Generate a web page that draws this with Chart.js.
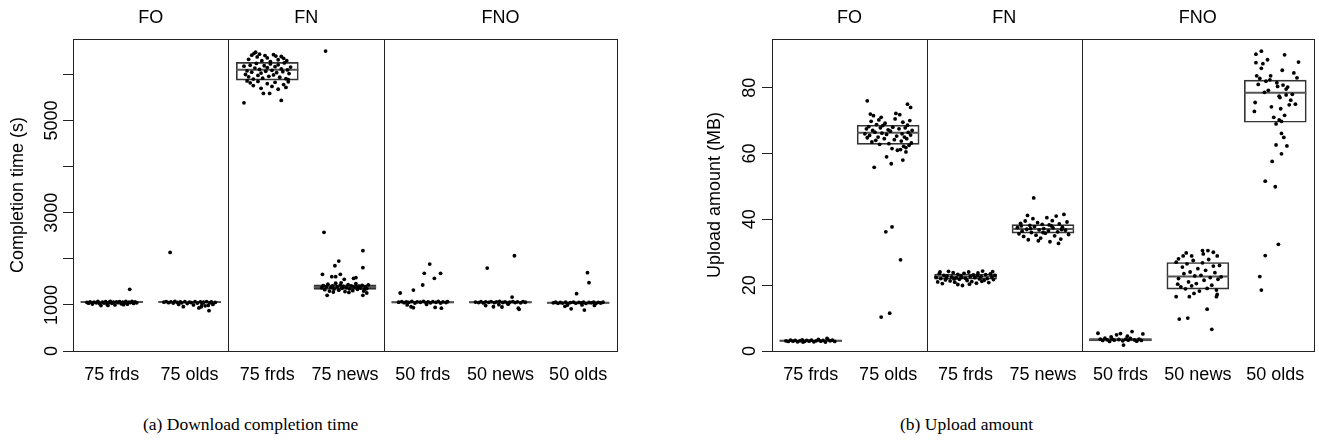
<!DOCTYPE html>
<html>
<head>
<meta charset="utf-8">
<script src="https://cdn.jsdelivr.net/npm/chart.js@4.4.1/dist/chart.umd.min.js"></script>
<style>
  body { margin: 0; background: #fff; width: 1319px; height: 447px; overflow: hidden; position: relative; }
  .wrap { position: absolute; top: 0; height: 400px; }
  .cap { position: absolute; top: 414px; font-family: "Liberation Serif", serif; font-size: 17.5px; line-height: 20px; color: #000; white-space: nowrap; }
</style>
</head>
<body>
<div class="wrap" style="left:0;width:640px"><canvas id="dl" width="640" height="400"></canvas></div>
<div class="wrap" style="left:700px;width:619px"><canvas id="up" width="619" height="400"></canvas></div>
<div class="cap" style="left:143px">(a) Download completion time</div>
<div class="cap" style="left:900px">(b) Upload amount</div>
<script>
// categories and groups (same for both panels)
const categories = ['75 frds', '75 olds', '75 frds', '75 news', '50 frds', '50 news', '50 olds'];
const groupNames = ['FO', 'FN', 'FNO'];
const groupSizes = [2, 2, 3];

// (a) download completion time, seconds
const dlTicks = [0, 1000, 2000, 3000, 4000, 5000, 6000];
const dlTickLabels = [0, 1000, 3000, 5000];
const dlMax = 6770;
const dlQ1  = [1050, 1048, 5878, 1338, 1045, 1045, 1030];
const dlMed = [1065, 1062, 6102, 1388, 1060, 1060, 1045];
const dlQ3  = [1080, 1075, 6262, 1438, 1075, 1072, 1058];

// jittered observations: [x offset, value]
const dlFOfrds = [[-0.32,1055],[-0.3,1038],[-0.28,1068],[-0.25,1020],[-0.23,1062],[-0.2,1045],[-0.18,1075],[-0.16,1030],[-0.14,985],[-0.12,1058],[-0.1,1040],[-0.08,1070],[-0.06,1010],[-0.04,1052],[-0.02,1078],[0,1035],[0.02,1060],[0.04,1000],[0.06,1068],[0.08,1048],[0.1,1072],[0.12,1025],[0.14,1058],[0.16,1040],[0.18,1074],[0.2,1015],[0.22,1062],[0.24,1050],[0.26,1078],[0.28,1032],[0.3,1066],[0.32,1045],[0.23,1338],[-0.05,990],[0.15,1005]];
const dlFOolds = [[-0.33,1060],[-0.3,1072],[-0.27,1048],[-0.25,2140],[-0.24,1066],[-0.21,1040],[-0.19,1075],[-0.16,1055],[-0.14,1010],[-0.12,1068],[-0.1,1045],[-0.08,961],[-0.06,1070],[-0.03,1030],[0,1062],[0.02,1050],[0.05,1000],[0.07,1072],[0.1,1040],[0.12,935],[0.14,1066],[0.16,1020],[0.18,1058],[0.2,980],[0.22,1070],[0.25,874],[0.26,1045],[0.28,1064],[0.3,1010],[0.33,1055],[0.15,960],[0.24,990]];
const dlFNfrds = [[-0.24,6330],[-0.2,6420],[-0.17,6460],[-0.13,6380],[-0.1,6440],[-0.07,6300],[-0.03,6410],[0,6360],[0.04,6280],[0.08,6430],[0.11,6400],[0.14,6320],[0.18,6390],[0.21,6350],[0.25,6300],[-0.15,6485],
  [-0.3,6180],[-0.28,6000],[-0.26,6080],[-0.24,5950],[-0.22,6200],[-0.2,6050],[-0.18,5900],[-0.16,6140],[-0.14,6240],[-0.12,5980],[-0.1,6110],[-0.08,6030],[-0.06,5920],[-0.04,6190],[-0.02,6070],[0,6150],[0.02,5960],[0.04,6230],[0.06,6090],[0.08,5990],[0.1,6170],[0.12,6040],[0.14,6210],[0.16,5940],[0.18,6120],[0.2,6060],[0.22,6250],[0.24,5910],[0.26,6100],[0.28,6020],[0.3,6160],[0.27,5890],
  [-0.3,5386],[-0.22,5820],[-0.18,5760],[-0.12,5850],[-0.08,5700],[-0.05,5590],[0,5800],[0.03,5590],[0.06,5740],[0.1,5830],[0.14,5680],[0.18,5438],[0.21,5780],[0.24,5720],[0.27,5840],[-0.26,5860]];
const dlFNnews = [[-0.25,6508],[-0.27,2575],[0.23,2176],[-0.08,1952],[-0.13,1850],[0.23,1807],[-0.29,1663],[-0.17,1612],[-0.12,1612],[-0.06,1663],[-0.01,1555],[0.11,1577],[0.14,1590],[-0.23,1208],[0.23,1208],[0.28,1258],
  [-0.3,1370],[-0.28,1420],[-0.26,1330],[-0.24,1395],[-0.22,1450],[-0.2,1300],[-0.18,1380],[-0.16,1410],[-0.14,1345],[-0.12,1470],[-0.1,1390],[-0.08,1320],[-0.06,1430],[-0.04,1360],[-0.02,1400],[0,1290],[0.02,1375],[0.04,1440],[0.06,1350],[0.08,1415],[0.1,1310],[0.12,1385],[0.14,1460],[0.16,1340],[0.18,1405],[0.2,1365],[0.22,1425],[0.24,1300],[0.26,1390],[0.28,1355],[0.3,1435],[-0.05,1480],[0.05,1270],[0.15,1395],[-0.15,1280],[0.25,1330]];
const dlFNOfrds = [[-0.29,1258],[-0.12,1323],[0,1432],[0.02,1685],[0.09,1887],[0.15,1577],[0.23,1685],[-0.12,940],[-0.15,960],[0.16,945],[0.24,930],
  [-0.31,1060],[-0.27,1072],[-0.24,1048],[-0.21,1066],[-0.18,1055],[-0.14,1075],[-0.1,1042],[-0.07,1068],[-0.03,1058],[0.01,1078],[0.04,1050],[0.07,1064],[0.1,1045],[0.13,1070],[0.17,1056],[0.2,1074],[0.23,1040],[0.26,1066],[0.3,1052],[0.32,1070],[-0.2,1000],[0.05,1010]];
const dlFNOnews = [[-0.17,1800],[0.18,2067],[0.15,1171],[-0.09,960],[0.02,955],[0.23,930],[0.24,905],[-0.19,985],
  [-0.32,1062],[-0.28,1050],[-0.25,1070],[-0.22,1044],[-0.19,1066],[-0.15,1056],[-0.12,1072],[-0.08,1048],[-0.05,1064],[-0.01,1075],[0.03,1052],[0.06,1068],[0.09,1040],[0.12,1060],[0.16,1073],[0.19,1050],[0.22,1066],[0.26,1045],[0.29,1070],[0.32,1058],[0.1,1015],[-0.02,1005]];
const dlFNOolds = [[0.12,1699],[0.14,1482],[-0.02,1243],[-0.09,915],[0.08,889],[-0.17,970],[0.21,990],
  [-0.32,1045],[-0.29,1058],[-0.26,1035],[-0.23,1052],[-0.2,1040],[-0.16,1060],[-0.13,1030],[-0.1,1050],[-0.06,1062],[-0.03,1038],[0.01,1055],[0.04,1044],[0.07,1060],[0.1,1032],[0.14,1052],[0.17,1046],[0.2,1062],[0.23,1036],[0.26,1054],[0.29,1042],[0.32,1058],[-0.14,995],[0.05,1000]];
const dlPoints = [dlFOfrds, dlFOolds, dlFNfrds, dlFNnews, dlFNOfrds, dlFNOnews, dlFNOolds];

// (b) upload amount, MB
const upTicks = [0, 20, 40, 60, 80];
const upTickLabels = [0, 20, 40, 60, 80];
const upMax = 94.8;
const upQ1  = [2.9, 62.8, 21.8, 35.8, 3.1, 18.8, 69.5];
const upMed = [3.1, 66.3, 22.6, 37.1, 3.4, 22.6, 78.5];
const upQ3  = [3.3, 68.6, 23.4, 38.4, 3.8, 26.9, 82.3];

const upFOfrds = [[-0.32,3.1],[-0.29,2.9],[-0.26,3.3],[-0.23,3.0],[-0.2,3.2],[-0.17,2.8],[-0.14,3.1],[-0.11,3.4],[-0.08,2.9],[-0.05,3.2],[-0.02,3.0],[0.01,3.3],[0.04,2.8],[0.07,3.1],[0.1,3.5],[0.13,3.0],[0.16,3.2],[0.19,2.7],[0.22,3.6],[0.25,3.1],[0.28,3.3],[0.31,2.9],[0.21,3.8],[-0.1,2.7]];
const upFOolds = [[-0.09,10.3],[0.02,11.5],[-0.03,36.2],[0.05,37.7],[0.16,27.7],[-0.27,76.0],[0.25,75.0],[0.29,74.0],[-0.18,55.8],[0.04,56.9],[-0.02,59.0],[0.19,58.0],[0.23,60.5],
  [-0.3,66.0],[-0.28,67.5],[-0.27,64.8],[-0.25,68.2],[-0.24,65.5],[-0.22,69.8],[-0.21,63.5],[-0.2,67.0],[-0.19,71.5],[-0.17,66.5],[-0.16,64.0],[-0.15,68.8],[-0.13,65.0],[-0.12,70.2],[-0.11,62.8],[-0.1,67.8],[-0.08,66.2],[-0.07,68.5],[-0.05,64.5],[-0.04,69.2],[-0.02,65.8],[0,67.2],[0.01,63.0],[0.03,66.8],[0.05,61.5],[0.06,68.0],[0.08,64.2],[0.09,70.5],[0.11,65.3],[0.12,61.0],[0.14,67.5],[0.15,71.8],[0.17,63.8],[0.18,66.0],[0.19,69.5],[0.2,62.2],[0.21,65.0],[0.22,67.8],[0.23,61.8],[0.24,64.5],[0.25,68.6],[0.26,66.4],[0.27,62.5],[0.28,70.0],[0.29,65.6],[0.3,63.2],[0.31,67.0],[-0.23,72.0],[-0.09,71.0],[0.1,72.2],[0.16,61.2]];
const upFNfrds = [[-0.38,22.4],[-0.36,21.0],[-0.34,23.5],[-0.32,22.0],[-0.3,20.5],[-0.28,23.0],[-0.26,21.6],[-0.24,22.8],[-0.22,24.2],[-0.2,21.3],[-0.18,22.5],[-0.16,23.8],[-0.14,20.9],[-0.12,22.2],[-0.1,23.3],[-0.08,21.8],[-0.06,22.9],[-0.04,19.9],[-0.02,23.6],[0,22.1],[0.02,21.4],[0.04,24.0],[0.06,22.6],[0.08,21.1],[0.1,23.1],[0.12,22.3],[0.14,20.6],[0.16,23.7],[0.18,21.9],[0.2,22.7],[0.22,24.3],[0.24,21.5],[0.26,23.2],[0.28,22.0],[0.3,20.8],[0.32,23.4],[0.34,22.5],[0.36,21.7],[0.38,23.0],[-0.33,24.0],[-0.15,21.9],[0.05,20.3],[0.21,21.2],[-0.05,22.4],[0.15,22.9],[-0.25,22.1],[0.35,24.1],[-0.1,20.2]];
const upFNnews = [[-0.33,37.5],[-0.31,35.6],[-0.29,38.8],[-0.27,36.4],[-0.25,34.8],[-0.23,39.5],[-0.21,37.0],[-0.19,33.8],[-0.17,38.2],[-0.15,36.0],[-0.13,40.2],[-0.12,46.5],[-0.11,37.8],[-0.09,35.2],[-0.07,39.0],[-0.05,36.8],[-0.03,34.3],[-0.01,38.5],[0.01,37.2],[0.03,35.8],[0.05,40.5],[0.07,36.5],[0.09,33.2],[0.11,38.0],[0.13,37.4],[0.15,35.0],[0.17,41.0],[0.19,36.2],[0.21,38.6],[0.23,34.0],[0.25,37.6],[0.27,41.5],[0.29,36.7],[0.31,39.2],[0.33,35.4],[-0.2,41.2],[0.2,32.7],[-0.06,33.5],[0.12,39.6],[-0.28,38.0],[0,36.0],[0.24,36.9],[-0.16,37.2],[0.08,38.3]];
const upFNOfrds = [[-0.29,5.4],[-0.26,3.6],[-0.23,3.2],[-0.2,3.9],[-0.17,3.4],[-0.14,2.9],[-0.11,3.7],[-0.08,3.3],[-0.05,4.9],[-0.02,3.5],[0,5.3],[0.03,3.1],[0.04,1.8],[0.07,3.6],[0.1,3.3],[0.13,3.8],[0.15,5.9],[0.18,3.4],[0.21,3.0],[0.24,3.6],[0.27,3.2],[0.29,5.2],[-0.12,4.3],[0.09,4.5]];
const upFNOnews = [[0.06,30.5],[0.13,30.5],[-0.19,28.9],[-0.25,28.0],[-0.08,28.9],[0.25,28.9],[-0.28,16.5],[-0.11,16.5],[0.24,16.5],[0.12,12.7],[-0.24,9.7],[-0.13,10.0],[0.18,6.6],
  [-0.28,27.0],[-0.25,22.0],[-0.22,19.5],[-0.2,25.5],[-0.18,23.5],[-0.16,18.9],[-0.14,26.5],[-0.12,21.0],[-0.1,24.0],[-0.08,19.8],[-0.06,27.5],[-0.04,22.8],[-0.02,20.5],[0,25.0],[0.02,18.2],[0.04,23.0],[0.06,26.8],[0.08,21.5],[0.1,24.5],[0.12,19.0],[0.14,27.8],[0.16,22.3],[0.18,20.0],[0.2,25.8],[0.22,23.8],[0.24,18.5],[0.26,21.8],[0.28,26.0],[0.3,22.5],[-0.26,20.3],[0.07,29.5],[-0.15,29.8],[0.2,30.0],[-0.05,17.5],[0.25,17.2]];
const upFNOolds = [[-0.25,90.2],[-0.18,91.1],[0.12,90.0],[0.3,87.8],[-0.25,87.6],[-0.16,87.3],[-0.18,85.9],[-0.24,83.6],[-0.06,83.6],
  [-0.2,82.8],[-0.12,82.0],[0.02,81.5],[0.1,80.8],[0.16,80.2],[0.14,79.6],[-0.22,81.0],[-0.09,79.2],[0.03,80.4],[0.05,77.4],[0.06,77.0],[0.2,76.2],[0.26,75.0],[-0.26,75.5],[-0.05,74.2],[0.07,73.6],[-0.27,72.8],[0.12,71.6],[-0.02,71.0],[0.05,70.2],[0.08,69.8],[0.01,69.0],[0.22,78.0],[0.14,77.8],[-0.14,78.6],[0.18,74.8],[-0.07,82.4],[0.24,84.5],[0.09,85.3],[-0.1,88.5],[0.28,83.0],
  [0.08,66.1],[0.11,64.9],[0.01,62.6],[0.15,62.3],[0.08,59.9],[-0.04,57.6],[-0.13,51.6],[0,49.9],[0.04,32.4],[-0.13,29.0],[-0.2,22.6],[-0.18,18.5]];
const upPoints = [upFOfrds, upFOolds, upFNfrds, upFNnews, upFNOfrds, upFNOnews, upFNOolds];

const FONT = '"Liberation Sans", Arial, sans-serif';

// frame, group separators, group names and y title
const framePlugin = {
  id: 'frame',
  afterDatasetsDraw(chart, args, opts) {
    const { ctx, chartArea: a, scales: { x } } = chart;
    ctx.save();
    ctx.strokeStyle = '#222';
    ctx.lineWidth = 1;
    const l = Math.round(a.left) + 0.5, t = Math.round(a.top) + 0.5;
    const r = Math.round(a.right) + 0.5, b = Math.round(a.bottom) + 0.5;
    ctx.strokeRect(l, t, r - l, b - t);

    let start = 0;
    ctx.fillStyle = '#000';
    ctx.font = '18px ' + FONT;
    ctx.textAlign = 'center';
    ctx.textBaseline = 'middle';
    groupSizes.forEach((n, i) => {
      const mid = start + (n + 1) / 2;
      ctx.fillText(groupNames[i], x.getPixelForValue(mid), 18);
      start += n;
      if (i < groupSizes.length - 1) {
        const px = Math.round(x.getPixelForValue(start + 0.5)) + 0.5;
        ctx.beginPath();
        ctx.moveTo(px, t);
        ctx.lineTo(px, b);
        ctx.stroke();
      }
    });

    ctx.translate(opts.titleX, (a.top + a.bottom) / 2);
    ctx.rotate(-Math.PI / 2);
    ctx.fillText(opts.yTitle, 0, 0);
    ctx.restore();
  }
};

function makeChart(id, q1, med, q3, points, ticks, tickLabels, yMax, opt) {
  const boxes = q1.map((lo, i) => ({ x: i + 1, y: [lo, q3[i]] }));
  const medians = [];
  med.forEach((m, i) => {
    medians.push({ x: i + 0.6, y: m }, { x: i + 1.4, y: m }, { x: i + 1.45, y: null });
  });
  const dots = [];
  points.forEach((grp, i) => grp.forEach(p => dots.push({ x: i + 1 + p[0], y: p[1] })));

  return new Chart(document.getElementById(id), {
    type: 'scatter',
    data: {
      datasets: [
        {
          type: 'bar',
          data: boxes,
          backgroundColor: 'rgba(255,255,255,0)',
          borderColor: '#333',
          borderWidth: 1,
          borderSkipped: false,
          barThickness: 62,
          order: 3
        },
        {
          type: 'line',
          data: medians,
          borderColor: '#555',
          borderWidth: 2,
          pointRadius: 0,
          spanGaps: false,
          order: 2
        },
        {
          type: 'scatter',
          data: dots,
          pointRadius: 1.9,
          pointBackgroundColor: '#000',
          pointBorderWidth: 0,
          order: 1
        }
      ]
    },
    options: {
      responsive: false,
      animation: false,
      layout: { padding: { left: 0, right: opt.padRight, top: 39, bottom: 0 } },
      plugins: {
        legend: { display: false },
        tooltip: { enabled: false },
        frame: { yTitle: opt.yTitle, titleX: opt.titleX }
      },
      scales: {
        x: {
          type: 'linear',
          min: 0.5,
          max: 7.5,
          offset: false,
          afterBuildTicks: s => { s.ticks = categories.map((c, i) => ({ value: i + 1 })); },
          afterFit: s => { s.height = 49; },
          grid: { display: false, drawTicks: false, offset: false },
          border: { display: false },
          ticks: {
            autoSkip: false,
            maxRotation: 0,
            padding: 13,
            color: '#000',
            font: { family: FONT, size: 18 },
            callback: v => categories[v - 1]
          }
        },
        y: {
          min: 0,
          max: yMax,
          afterBuildTicks: s => { s.ticks = ticks.map(v => ({ value: v })); },
          afterFit: s => { s.width = opt.axisWidth; },
          grid: { drawOnChartArea: false, drawTicks: true, tickLength: 10, color: '#222', lineWidth: 1 },
          border: { display: false },
          ticks: {
            autoSkip: false,
            minRotation: 90,
            maxRotation: 90,
            crossAlign: 'center',
            padding: opt.tickPad,
            color: '#000',
            font: { family: FONT, size: 18 },
            callback: v => tickLabels.includes(v) ? String(v) : ''
          }
        }
      }
    },
    plugins: [framePlugin]
  });
}

makeChart('dl', dlQ1, dlMed, dlQ3, dlPoints, dlTicks, dlTickLabels, dlMax,
  { padRight: 23, axisWidth: 73, tickPad: -9, yTitle: 'Completion time (s)', titleX: 18 });
makeChart('up', upQ1, upMed, upQ3, upPoints, upTicks, upTickLabels, upMax,
  { padRight: 5, axisWidth: 72, tickPad: 2, yTitle: 'Upload amount (MB)', titleX: 15 });
</script>
</body>
</html>
